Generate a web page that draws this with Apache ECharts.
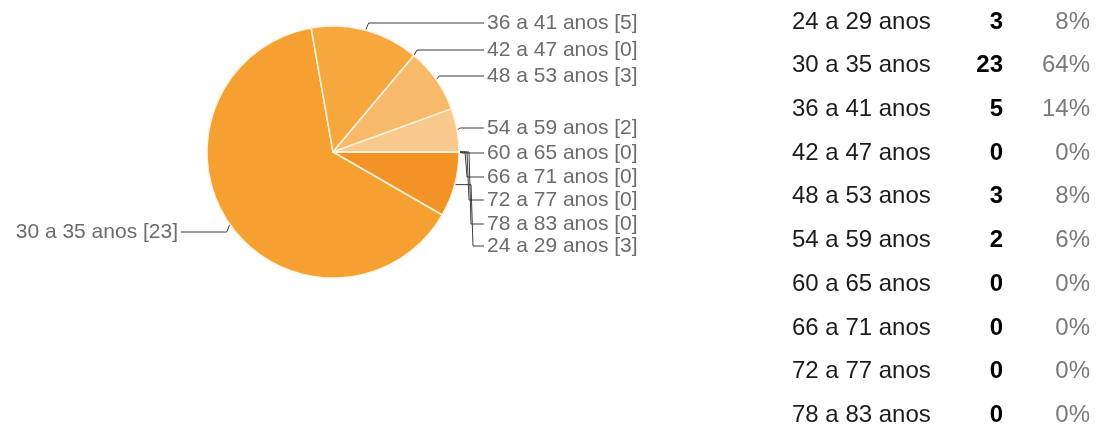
<!DOCTYPE html>
<html>
<head>
<meta charset="utf-8">
<script src="https://cdn.jsdelivr.net/npm/echarts@6/dist/echarts.min.js"></script>
<style>
  html, body { margin: 0; padding: 0; background: #fff; }
  #chart { width: 1098px; height: 426px; }
</style>
</head>
<body>
<div id="chart"></div>
<script>
// faixas etarias, na ordem do questionario
var categories = ['24 a 29 anos', '30 a 35 anos', '36 a 41 anos', '42 a 47 anos', '48 a 53 anos',
                  '54 a 59 anos', '60 a 65 anos', '66 a 71 anos', '72 a 77 anos', '78 a 83 anos'];
var counts = [3, 23, 5, 0, 3, 2, 0, 0, 0, 0];
var sliceColors = ['#f39325', '#f5a030', '#f6a83e', '#f4a030', '#f7b96a',
                   '#f9c88c', '#f5a030', '#f5a030', '#f5a030', '#f5a030'];

// layout only (pixels)
var pieCenter = [333, 152];
var pieRadius = 126;
var labelSlotY = [246, 232, 23, 50, 76, 128, 153, 177, 200, 224];
var rightLabelX = 487;
var leftLabelX = 178;
var labelFont = '"Liberation Sans", Arial, sans-serif';

var total = counts.reduce(function (a, b) { return a + b; }, 0);

var chart = echarts.init(document.getElementById('chart'), null, {renderer: 'canvas'});

var pieData = categories.map(function (c, i) {
    return {name: c, value: counts[i], itemStyle: {color: sliceColors[i]}};
});

// table on the right
var tableGraphics = [];
var rowTop = 22, rowStep = 43.7;
function cell(x, y, text, font, fill, align) {
    return {
        type: 'text', x: x, y: y,
        style: {text: text, font: font, fill: fill,
                textAlign: align, textVerticalAlign: 'middle', align: align, verticalAlign: 'middle'}
    };
}
categories.forEach(function (c, i) {
    var y = rowTop + i * rowStep;
    tableGraphics.push(cell(792, y, c, '24px ' + labelFont, '#1c1c1c', 'left'));
    tableGraphics.push(cell(1003, y, String(counts[i]), 'bold 24px ' + labelFont, '#000', 'right'));
    tableGraphics.push(cell(1090, y, Math.round(counts[i] / total * 100) + '%', '24px ' + labelFont, '#7a7a7a', 'right'));
});

var zeroRank = {7: 0, 8: 1, 9: 2, 0: 3};

var option = {
    animation: false,
    graphic: tableGraphics,
    series: [
        {
            type: 'pie',
            center: pieCenter,
            radius: [0, pieRadius],
            startAngle: 0,
            clockwise: true,
            avoidLabelOverlap: false,
            silent: true,
            data: pieData,
            itemStyle: {borderColor: '#fff3dc', borderWidth: 1.5},
            label: {
                show: true,
                formatter: '{b} [{c}]',
                fontFamily: labelFont,
                fontSize: 21,
                color: '#6c6c6c'
            },
            labelLine: {
                show: true,
                length: 10,
                length2: 10,
                lineStyle: {color: '#3c3c3c', width: 1}
            },
            labelLayout: function (params) {
                var i = params.dataIndex;
                var ly = labelSlotY[i];
                var p0 = params.labelLinePoints ? params.labelLinePoints[0] : [pieCenter[0] + pieRadius, pieCenter[1]];
                if (p0[0] < pieCenter[0]) {
                    return {
                        x: leftLabelX, y: ly, align: 'right', verticalAlign: 'middle',
                        labelLinePoints: [p0, [p0[0] - 3, ly], [leftLabelX + 3, ly]]
                    };
                }
                var pts;
                if (Math.abs(ly - p0[1]) <= 10) {
                    pts = [p0, [p0[0] + 3, ly], [rightLabelX - 3, ly]];
                } else {
                    var ex = pieCenter[0] + pieRadius + 6 + zeroRank[i] * 2;
                    pts = [p0, [ex, p0[1]], [ex + 2, ly], [rightLabelX - 3, ly]];
                }
                return {x: rightLabelX, y: ly, align: 'left', verticalAlign: 'middle', labelLinePoints: pts};
            }
        }
    ]
};
chart.setOption(option);
</script>
</body>
</html>
